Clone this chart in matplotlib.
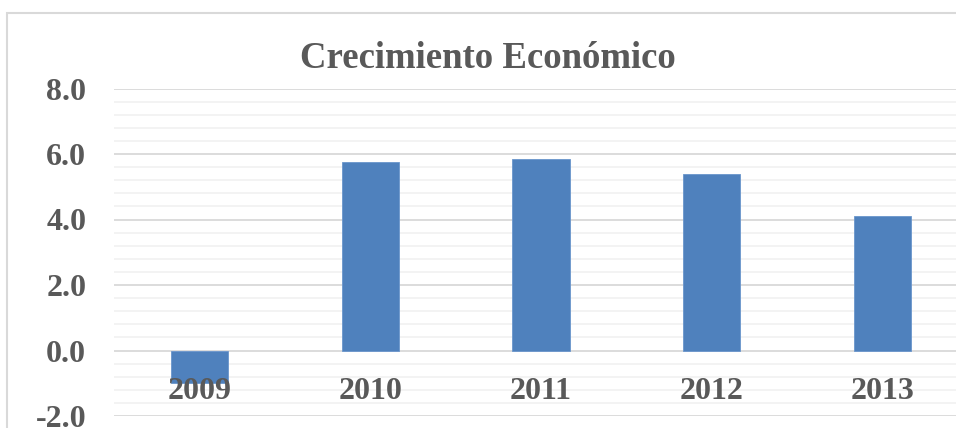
import matplotlib
matplotlib.use("Agg")
import matplotlib.pyplot as plt
from matplotlib.ticker import MultipleLocator
from matplotlib.patches import Rectangle

years = ["2009", "2010", "2011", "2012", "2013"]
growth = [-1.0, 5.76, 5.84, 5.39, 4.10]
title = "Crecimiento Económico"

W, H = 956, 428
fig = plt.figure(figsize=(W / 100, H / 100), dpi=100)
fig.patch.set_facecolor("white")

# chart-area border (cropped at right/bottom)
fig.patches.append(Rectangle((7 / W, -0.1), 1.2, 1 - 13 / H + 0.1,
                             transform=fig.transFigure, fill=False,
                             edgecolor="#D9D9D9", linewidth=1.5))

left, right = 114 / W, 968 / W
bottom, top = 1 - 416 / H, 1 - 88.5 / H
ax = fig.add_axes([left, bottom, right - left, top - bottom])
ax.set_facecolor("none")

text_color = "#595959"
serif = ["Liberation Serif", "DejaVu Serif"]

x = list(range(len(years)))
ax.bar(x, growth, width=0.335, color="#4F81BD", edgecolor="#6A96CC",
       linewidth=0.6, zorder=3)

ax.set_xlim(-0.5, len(years) - 0.5)
ax.set_ylim(-2, 8)
ax.yaxis.set_major_locator(MultipleLocator(2))
ax.yaxis.set_minor_locator(MultipleLocator(0.4))
ax.grid(axis="y", which="major", color="#D9D9D9", linewidth=1.3, zorder=0)
ax.grid(axis="y", which="minor", color="#F2F2F2", linewidth=1.3, zorder=0)
ax.set_axisbelow(True)
for s in ax.spines.values():
    s.set_visible(False)
ax.set_xticks([])
ax.tick_params(axis="y", which="both", length=0, pad=20)
ax.set_yticks([-2, 0, 2, 4, 6, 8])
ax.set_yticklabels([f"{v:.1f}" for v in [-2, 0, 2, 4, 6, 8]],
                   fontfamily=serif, fontweight="bold", fontsize=23,
                   color=text_color)

for i, lab in zip(x, years):
    ax.annotate(lab, xy=(i, 0), xytext=(0, -41), textcoords="offset pixels",
                ha="center", va="center", fontfamily=serif,
                fontweight="bold", fontsize=23, color=text_color, zorder=5)

fig.text(487.5 / W, 1 - 68 / H, title, ha="center", va="baseline",
         fontfamily=serif, fontweight="bold", fontsize=26.5, color=text_color)

fig.savefig("out.png", dpi=100)
